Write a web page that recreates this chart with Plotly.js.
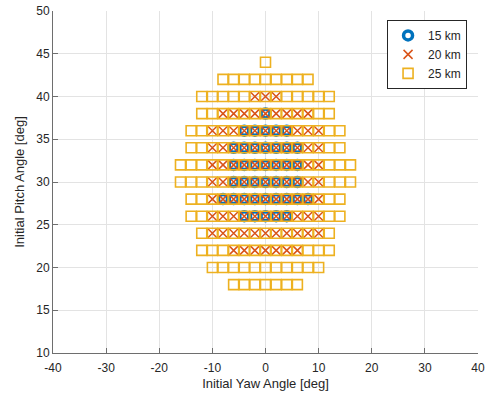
<!DOCTYPE html>
<html>
<head>
<meta charset="utf-8">
<script src="https://cdn.plot.ly/plotly-3.0.1.min.js"></script>
<style>
  html, body { margin: 0; padding: 0; background: #fff; }
  #chart { width: 485px; height: 400px; }
</style>
</head>
<body>
<div id="chart"></div>
<script>
// Grid spacing of the initial-condition sweep [deg]
const yawStep = 2;

// Each row: [pitch, yawMin, yawMax] in degrees
const rows15km = [
  [38, 0, 0],
  [36, -4, 4],
  [34, -6, 6],
  [32, -6, 6],
  [30, -6, 6],
  [28, -8, 8],
  [26, -4, 4]
];

const rows20km = [
  [40, -2, 2],
  [38, -8, 8],
  [36, -10, 10],
  [34, -10, 10],
  [32, -10, 10],
  [30, -10, 10],
  [28, -10, 10],
  [26, -10, 10],
  [24, -10, 10],
  [22, -6, 6]
];

const rows25km = [
  [44, 0, 0],
  [42, -8, 8],
  [40, -12, 12],
  [38, -12, 12],
  [36, -14, 14],
  [34, -14, 14],
  [32, -16, 16],
  [30, -16, 16],
  [28, -14, 14],
  [26, -14, 14],
  [24, -12, 12],
  [22, -12, 12],
  [20, -10, 10],
  [18, -6, 6]
];

const seriesNames = ['15 km', '20 km', '25 km'];
const xTicks = [-40, -30, -20, -10, 0, 10, 20, 30, 40];
const yTicks = [10, 15, 20, 25, 30, 35, 40, 45, 50];

// Expand row extents into the individual grid cases
function expandRows(rows) {
  const x = [], y = [];
  rows.forEach(([pitch, yMin, yMax]) => {
    for (let yaw = yMin; yaw <= yMax; yaw += yawStep) {
      x.push(yaw);
      y.push(pitch);
    }
  });
  return { x, y };
}

const p15 = expandRows(rows15km);
const p20 = expandRows(rows20km);
const p25 = expandRows(rows25km);

const font = { family: '"Liberation Sans", Arial, Helvetica, sans-serif', color: '#262626' };

const traces = [
  {
    x: p15.x, y: p15.y, name: seriesNames[0], type: 'scatter', mode: 'markers',
    marker: { symbol: 'circle-open', size: 9, color: '#0072BD', line: { width: 3.5, color: '#0072BD' } }
  },
  {
    x: p20.x, y: p20.y, name: seriesNames[1], type: 'scatter', mode: 'markers',
    marker: { symbol: 'x-thin-open', size: 9, color: '#D95319', line: { width: 1.5, color: '#D95319' } }
  },
  {
    x: p25.x, y: p25.y, name: seriesNames[2], type: 'scatter', mode: 'markers',
    marker: { symbol: 'square-open', size: 10, color: '#EDB120', line: { width: 1.6, color: '#EDB120' } }
  }
];

const axisCommon = {
  showgrid: true, gridcolor: '#e3e3e3', gridwidth: 1,
  zeroline: false, showline: true, linecolor: '#6e6e6e', linewidth: 1,
  ticks: 'inside', ticklen: 5, tickcolor: '#6e6e6e', tickwidth: 1,
  tickfont: { family: font.family, size: 12, color: '#262626' }
};

const layout = {
  width: 485, height: 400,
  margin: { l: 53, r: 7, t: 11, b: 47 },
  paper_bgcolor: '#fff', plot_bgcolor: '#fff',
  font: font,
  showlegend: true,
  xaxis: Object.assign({}, axisCommon, {
    range: [-40, 40], tickvals: xTicks, ticktext: xTicks.map(String),
    ticklabelstandoff: 4,
    title: { text: 'Initial Yaw Angle [deg]', font: { family: font.family, size: 13, color: '#262626' }, standoff: 4 }
  }),
  yaxis: Object.assign({}, axisCommon, {
    range: [10, 50], tickvals: yTicks, ticktext: yTicks.map(String),
    title: { text: 'Initial Pitch Angle [deg]', font: { family: font.family, size: 13, color: '#262626' }, standoff: 8 }
  }),
  legend: {
    x: 0.786, y: 0.974, xanchor: 'left', yanchor: 'top',
    bgcolor: '#fff', bordercolor: '#262626', borderwidth: 1,
    font: { family: font.family, size: 12, color: '#262626' },
    tracegroupgap: 0, itemwidth: 30
  }
};

Plotly.newPlot('chart', traces, layout, { displayModeBar: false, staticPlot: true });
</script>
</body>
</html>
